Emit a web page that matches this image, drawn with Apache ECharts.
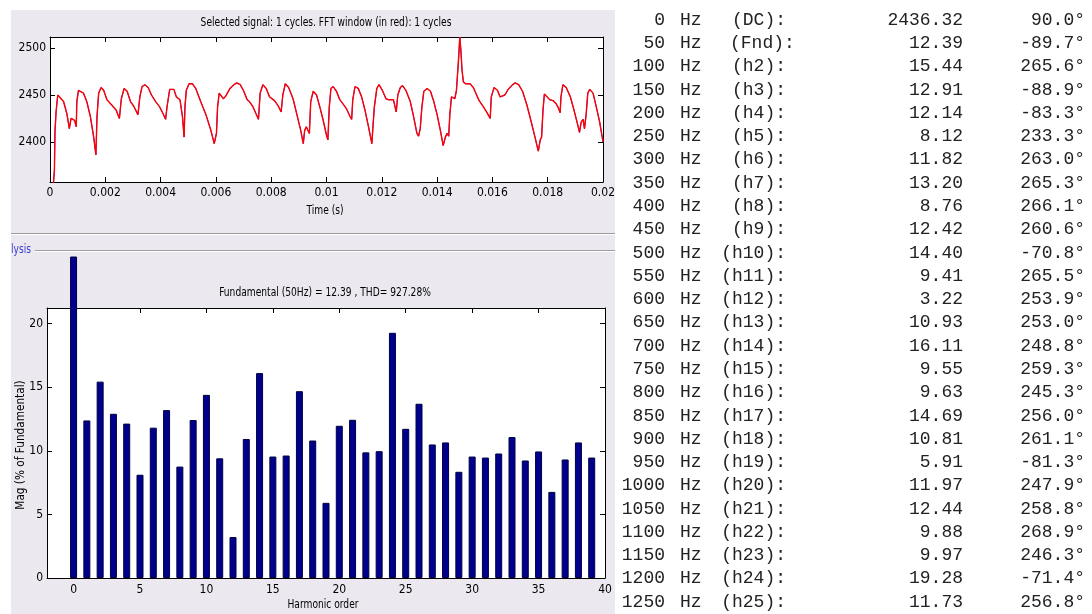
<!DOCTYPE html>
<html>
<head>
<meta charset="utf-8">
<script src="https://cdn.jsdelivr.net/npm/echarts@6/dist/echarts.min.js"></script>
<style>
  html, body { margin: 0; padding: 0; background: #fff; }
  #chart { width: 1092px; height: 614px; }
</style>
</head>
<body>
<div id="chart"></div>
<script>
// ---- Signal (one cycle) ----
const timeMs = [0.10, 0.16, 0.18, 0.22, 0.28, 0.33, 0.49, 0.61, 0.70, 0.76, 0.82, 0.89, 0.95, 0.97, 1.03, 1.09, 1.21, 1.33, 1.46, 1.58,
  1.66, 1.70, 1.76, 1.85, 1.94, 2.06, 2.24, 2.39, 2.51, 2.58, 2.68, 2.79, 2.91, 3.03, 3.18, 3.25, 3.33, 3.43, 3.55, 3.67,
  3.82, 3.96, 4.09, 4.18, 4.24, 4.33, 4.40, 4.48, 4.57, 4.64, 4.70, 4.79, 4.85, 4.88, 4.93, 5.03, 5.15, 5.27, 5.45, 5.64,
  5.82, 5.94, 5.99, 6.02, 6.06, 6.12, 6.18, 6.27, 6.36, 6.51, 6.65, 6.76, 6.88, 7.01, 7.13, 7.21, 7.33, 7.45, 7.54, 7.60,
  7.70, 7.82, 7.94, 8.00, 8.12, 8.24, 8.36, 8.42, 8.51, 8.63, 8.79, 8.93, 9.07, 9.16, 9.21, 9.27, 9.33, 9.38, 9.43, 9.52,
  9.64, 9.76, 9.88, 10.00, 10.05, 10.10, 10.16, 10.24, 10.36, 10.48, 10.61, 10.73, 10.85, 10.91, 10.95, 11.03, 11.15, 11.27, 11.39, 11.52,
  11.64, 11.68, 11.73, 11.82, 11.90, 12.02, 12.15, 12.24, 12.42, 12.48, 12.52, 12.58, 12.67, 12.75, 12.87, 13.03, 13.15, 13.27, 13.33, 13.39,
  13.45, 13.52, 13.64, 13.76, 13.88, 14.00, 14.12, 14.22, 14.24, 14.30, 14.36, 14.42, 14.46, 14.52, 14.58, 14.64, 14.70, 14.75, 14.79, 14.82,
  14.86, 14.90, 14.95, 15.03, 15.19, 15.31, 15.43, 15.52, 15.64, 15.79, 15.92, 15.96, 16.06, 16.18, 16.28, 16.34, 16.45, 16.57, 16.73, 16.82,
  16.95, 17.09, 17.25, 17.39, 17.54, 17.66, 17.73, 17.78, 17.83, 17.88, 17.98, 18.07, 18.19, 18.30, 18.39, 18.45, 18.48, 18.55, 18.67, 18.82,
  18.95, 19.07, 19.15, 19.21, 19.28, 19.33, 19.39, 19.45, 19.52, 19.64, 19.76, 19.88, 20.00];
const signal = [2345, 2370, 2411, 2432, 2450, 2452, 2443, 2430, 2414, 2425, 2426, 2423, 2416, 2443, 2455, 2456, 2452, 2443, 2427, 2405,
  2386, 2427, 2452, 2458, 2455, 2445, 2439, 2434, 2425, 2446, 2457, 2454, 2443, 2438, 2429, 2448, 2459, 2461, 2458, 2450,
  2443, 2437.5, 2430, 2424, 2439, 2456, 2458, 2456, 2448, 2450, 2445, 2427, 2405, 2437, 2455, 2462, 2462, 2457, 2443, 2429,
  2412, 2398, 2396, 2409, 2437, 2452, 2453, 2446, 2449, 2457, 2461, 2463, 2461, 2454, 2445, 2443, 2438, 2430, 2424, 2452,
  2461, 2457, 2448, 2446, 2444, 2439, 2432, 2450, 2462, 2458, 2446, 2429, 2412, 2398, 2412, 2416, 2412, 2409, 2443, 2454,
  2450, 2437, 2423, 2407, 2402, 2437, 2457, 2459, 2454, 2445, 2440, 2435, 2427, 2424, 2445, 2459, 2457, 2448, 2434, 2416,
  2398, 2416, 2437, 2457, 2461, 2455, 2446, 2445, 2445, 2443, 2432, 2450, 2458, 2460, 2455, 2443, 2427, 2409, 2406, 2414,
  2437, 2454, 2457, 2454, 2443, 2429, 2412, 2396, 2394, 2405, 2409, 2406, 2429, 2448, 2450, 2446, 2455, 2477, 2495, 2512,
  2498, 2477, 2464, 2462, 2462, 2458, 2450, 2444, 2439, 2432, 2425, 2448, 2458, 2455, 2448, 2446, 2450, 2456, 2461, 2463,
  2461, 2454, 2439, 2423, 2405, 2390, 2402, 2405, 2434, 2451, 2448, 2445, 2444, 2441, 2436, 2431, 2448, 2461, 2458, 2448,
  2434, 2420, 2410, 2421, 2424, 2414, 2429, 2452, 2456, 2452, 2437, 2421, 2400];

// ---- Harmonic table (DC .. h25) ----
const tableFreq  = ['0', '50', '100', '150', '200', '250', '300', '350', '400', '450', '500', '550', '600',
  '650', '700', '750', '800', '850', '900', '950', '1000', '1050', '1100', '1150', '1200', '1250'];
const tableLabel = ['(DC):', '(Fnd):', '(h2):', '(h3):', '(h4):', '(h5):', '(h6):', '(h7):', '(h8):', '(h9):', '(h10):',
  '(h11):', '(h12):', '(h13):', '(h14):', '(h15):', '(h16):', '(h17):', '(h18):', '(h19):', '(h20):', '(h21):',
  '(h22):', '(h23):', '(h24):', '(h25):'];
const tableMag   = [2436.32, 12.39, 15.44, 12.91, 12.14, 8.12, 11.82, 13.20, 8.76, 12.42, 14.40, 9.41, 3.22,
  10.93, 16.11, 9.55, 9.63, 14.69, 10.81, 5.91, 11.97, 12.44, 9.88, 9.97, 19.28, 11.73];
const tablePhase = [90.0, -89.7, 265.6, -88.9, -83.3, 233.3, 263.0, 265.3, 266.1, 260.6, -70.8, 265.5, 253.9,
  253.0, 248.8, 259.3, 245.3, 256.0, 261.1, -81.3, 247.9, 258.8, 268.9, 246.3, -71.4, 256.8];
// Harmonics 26..39 (spectrum only)
const upperMag = [13.7, 10.5, 10.66, 8.35, 9.55, 9.47, 9.79, 11.08, 9.24, 9.95, 6.77, 9.32, 10.66, 9.47];

// ---- Tick labels ----
const timeTicks = [0, 0.002, 0.004, 0.006, 0.008, 0.01, 0.012, 0.014, 0.016, 0.018, 0.02];
const signalTicks = [2400, 2450, 2500];
const orderTicks = [0, 5, 10, 15, 20, 25, 30, 35, 40];
const magTicks = [0, 5, 10, 15, 20];

const FONT = "'Liberation Sans Narrow', 'Arial Narrow', 'DejaVu Sans Condensed', sans-serif";
const MONO = "'Liberation Mono', 'DejaVu Sans Mono', monospace";
const PANEL = '#EBE9EF';
const NARROW = 0.78;   // horizontal squeeze for panel titles

const spectrum = tableMag.concat(upperMag);
const barData = spectrum.map((v, i) => [i, v]);
const waveData = timeMs.map((t, i) => [t / 1000, signal[i]]);

const labelStyle = { fontFamily: FONT, fontSize: 12, color: '#000' };
const lineStyle = { color: '#000', width: 1 };

function frameAxis(extra) {
  return Object.assign({
    type: 'value',
    axisLine: { show: true, onZero: false, lineStyle: lineStyle },
    axisTick: { show: true, inside: true, length: 5, lineStyle: lineStyle },
    splitLine: { show: false },
    axisLabel: { show: false }
  }, extra);
}

function ticksAt(values) {
  return { show: true, inside: true, length: 5, lineStyle: lineStyle, customValues: values };
}

function caption(text, x, y, extra) {
  return Object.assign({
    type: 'text', x: x, y: y, scaleX: NARROW, silent: true,
    style: { text: text, fontFamily: FONT, fontSize: 13, fill: '#000', align: 'center', verticalAlign: 'middle' }
  }, extra || {});
}

// Harmonic table as text rows
const rowY0 = 20, rowStep = 23.28;
const tableText = [];
tableFreq.forEach((f, i) => {
  const y = rowY0 + i * rowStep;
  const base = { fontFamily: MONO, fontSize: 18, fill: '#222', verticalAlign: 'middle' };
  tableText.push({ type: 'text', x: 665, y: y, z: 10, style: Object.assign({ text: f, align: 'right' }, base) });
  tableText.push({ type: 'text', x: 680, y: y, z: 10, style: Object.assign({ text: 'Hz', align: 'left' }, base) });
  const lab = tableLabel[i];
  const labPos = lab === '(Fnd):' ? { x: 730, align: 'left' } : { x: 786, align: 'right' };
  tableText.push({ type: 'text', x: labPos.x, y: y, z: 10, style: Object.assign({ text: lab, align: labPos.align }, base) });
  tableText.push({ type: 'text', x: 963, y: y, z: 10, style: Object.assign({ text: tableMag[i].toFixed(2), align: 'right' }, base) });
  tableText.push({ type: 'text', x: 1085, y: y, z: 10, style: Object.assign({ text: tablePhase[i].toFixed(1) + '°', align: 'right' }, base) });
});

const chart = echarts.init(document.getElementById('chart'), null, { renderer: 'canvas' });

chart.setOption({
  backgroundColor: PANEL,
  animation: false,
  grid: [
    { left: 50, top: 37, width: 553, height: 145, show: true, backgroundColor: '#fff', borderWidth: 0 },
    { left: 47, top: 257, width: 558, height: 321, show: false },
    { left: 47, top: 308, width: 558, height: 270, show: true, backgroundColor: '#fff', borderWidth: 0 }
  ],
  xAxis: [
    frameAxis({
      gridIndex: 0, position: 'bottom', min: 0, max: 0.02,
      axisTick: ticksAt(timeTicks),
      axisLabel: Object.assign({ show: true, margin: 5, customValues: timeTicks,
        formatter: v => String(+v.toFixed(3)) }, labelStyle)
    }),
    frameAxis({ gridIndex: 0, position: 'top', min: 0, max: 0.02, axisTick: ticksAt(timeTicks) }),
    { type: 'value', gridIndex: 1, min: -2, max: 40, show: false },
    frameAxis({
      gridIndex: 2, position: 'bottom', min: -2, max: 40,
      axisTick: ticksAt(orderTicks),
      axisLabel: Object.assign({ show: true, margin: 6, customValues: orderTicks, formatter: v => String(v) }, labelStyle)
    }),
    frameAxis({ gridIndex: 2, position: 'top', min: -2, max: 40, axisTick: ticksAt(orderTicks) })
  ],
  yAxis: [
    frameAxis({
      gridIndex: 0, position: 'left', min: 2357, max: 2512,
      axisTick: ticksAt(signalTicks),
      axisLabel: Object.assign({ show: true, margin: 4, customValues: signalTicks, formatter: v => String(v) }, labelStyle)
    }),
    frameAxis({ gridIndex: 0, position: 'right', min: 2357, max: 2512, axisTick: ticksAt(signalTicks) }),
    { type: 'value', gridIndex: 1, min: 0, max: 25.24, show: false },
    frameAxis({
      gridIndex: 2, position: 'left', min: 0, max: 21.23,
      axisTick: ticksAt(magTicks),
      axisLabel: Object.assign({ show: true, margin: 4, customValues: magTicks, formatter: v => String(v) }, labelStyle)
    }),
    frameAxis({ gridIndex: 2, position: 'right', min: 0, max: 21.23, axisTick: ticksAt(magTicks) })
  ],
  series: [
    {
      type: 'line', xAxisIndex: 0, yAxisIndex: 0, data: waveData, showSymbol: false, clip: true,
      lineStyle: { color: '#2020ff', width: 1 }, z: 3
    },
    {
      type: 'line', xAxisIndex: 0, yAxisIndex: 0, data: waveData, showSymbol: false, clip: true,
      lineStyle: { color: '#ff0000', width: 1.4 }, z: 4
    },
    {
      type: 'bar', xAxisIndex: 2, yAxisIndex: 2, data: barData, barWidth: 7, clip: true,
      itemStyle: { color: '#00008C', borderColor: '#000040', borderWidth: 1 }, z: 3
    }
  ],
  graphic: [
    // page margins and table area
    { type: 'rect', shape: { x: 0, y: 0, width: 11, height: 614 }, style: { fill: '#fff' }, silent: true },
    { type: 'rect', shape: { x: 0, y: 0, width: 1092, height: 10 }, style: { fill: '#fff' }, silent: true },
    { type: 'rect', shape: { x: 615, y: 0, width: 477, height: 614 }, style: { fill: '#fff' }, silent: true },
    // panel separators
    { type: 'line', shape: { x1: 11, y1: 233.5, x2: 615, y2: 233.5 }, style: { stroke: '#9c9c9c', lineWidth: 1 }, silent: true },
    { type: 'line', shape: { x1: 11, y1: 234.5, x2: 615, y2: 234.5 }, style: { stroke: '#ffffff', lineWidth: 1 }, silent: true },
    { type: 'line', shape: { x1: 35, y1: 250.5, x2: 615, y2: 250.5 }, style: { stroke: '#9c9c9c', lineWidth: 1 }, silent: true },
    { type: 'line', shape: { x1: 35, y1: 251.5, x2: 615, y2: 251.5 }, style: { stroke: '#ffffff', lineWidth: 1 }, silent: true },
    caption('lysis', 11, 250, { style: { text: 'lysis', fontFamily: FONT, fontSize: 13, fill: '#3b3bd0', align: 'left', verticalAlign: 'middle' } }),
    // titles and axis names
    caption('Selected signal: 1 cycles. FFT window (in red): 1 cycles', 326, 23),
    caption('Time (s)', 325, 211),
    caption('Fundamental (50Hz) = 12.39 , THD= 927.28%', 325, 293),
    caption('Harmonic order', 323, 605),
    { type: 'text', x: 21, y: 445, rotation: Math.PI / 2, scaleX: 0.9, silent: true,
      style: { text: 'Mag (% of Fundamental)', fontFamily: FONT, fontSize: 13, fill: '#000', align: 'center', verticalAlign: 'middle' } }
  ].concat(tableText)
});
</script>
</body>
</html>
